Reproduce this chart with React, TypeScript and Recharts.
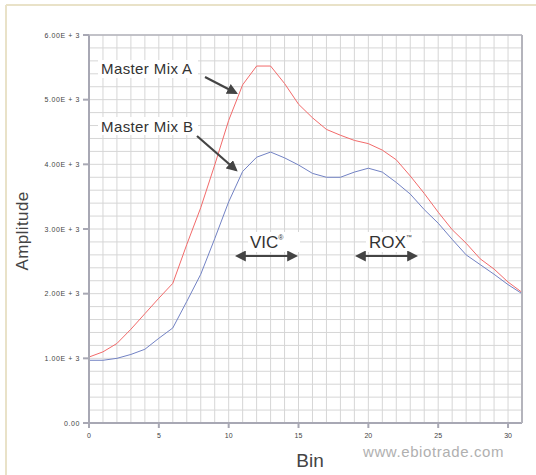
import { CartesianGrid, Line, LineChart, XAxis, YAxis } from "recharts";

const bins = Array.from({ length: 32 }, (_, i) => i);

const mixA = [
  1020, 1100, 1230, 1450, 1690, 1930, 2160, 2760, 3330, 3990, 4680, 5230, 5520,
  5520, 5250, 4930, 4720, 4540, 4450, 4370, 4320, 4220, 4070, 3820, 3550, 3260,
  2990, 2780, 2540, 2380, 2180, 2020,
];

const mixB = [
  970, 970, 1000, 1060, 1140, 1310, 1470, 1880, 2300, 2850, 3420, 3890, 4110,
  4190, 4100, 3990, 3860, 3800, 3800, 3880, 3940, 3880, 3720, 3540, 3300, 3090,
  2840, 2600, 2450, 2300, 2140, 2000,
];

const xTicks = [0, 5, 10, 15, 20, 25, 30];
const yTicks = [0, 1000, 2000, 3000, 4000, 5000, 6000];
const xGrid = Array.from({ length: 32 }, (_, i) => i);
const yGrid = Array.from({ length: 31 }, (_, i) => i * 200);

const data = bins.map((bin, i) => ({ bin, a: mixA[i], b: mixB[i] }));

const font = "'Liberation Sans', Arial, sans-serif";

const fmtY = (v: number) => (v === 0 ? "0.00" : `${(v / 1000).toFixed(2)}E + 3`);

const YTick = ({ x, y, payload }: any) => (
  <text
    x={x - 1}
    y={y}
    textAnchor="end"
    dominantBaseline="central"
    fontSize={7}
    fontFamily={font}
    fill="#444"
    letterSpacing={0.6}
  >
    {fmtY(payload.value)}
  </text>
);

const XTick = ({ x, y, payload }: any) => (
  <text x={x} y={y + 8} textAnchor="middle" fontSize={7} fontFamily={font} fill="#444">
    {payload.value}
  </text>
);

export default function App() {
  return (
    <div
      style={{
        position: "fixed",
        left: 0,
        top: 0,
        width: 536,
        height: 475,
        background: "#fff",
        fontFamily: font,
      }}
    >
      <LineChart
        width={536}
        height={475}
        data={data}
        margin={{ top: 35, right: 14, bottom: 22, left: 29 }}
      >
        <CartesianGrid xAxisId="grid" yAxisId="grid" stroke="#d6d6d6" strokeWidth={1} />
        <XAxis xAxisId="grid" dataKey="bin" type="number" domain={[0, 31]} ticks={xGrid} interval={0} hide />
        <YAxis
          yAxisId="grid"
          dataKey="a"
          type="number"
          domain={[0, 6000]}
          allowDataOverflow
          ticks={yGrid}
          interval={0}
          hide
        />
        <XAxis
          dataKey="bin"
          type="number"
          domain={[0, 31]}
          ticks={xTicks}
          height={30}
          stroke="#a8a8b4"
          strokeWidth={2}
          tickSize={5}
          tick={<XTick />}
        />
        <YAxis
          type="number"
          domain={[0, 6000]}
          ticks={yTicks}
          width={60}
          stroke="#a8a8b4"
          strokeWidth={2}
          tickSize={6}
          tick={<YTick />}
        />
        <Line
          dataKey="a"
          type="linear"
          stroke="#f26a6a"
          strokeWidth={1}
          dot={false}
          isAnimationActive={false}
        />
        <Line
          dataKey="b"
          type="linear"
          stroke="#7282c4"
          strokeWidth={1}
          dot={false}
          isAnimationActive={false}
        />
      </LineChart>
      <svg
        width={536}
        height={475}
        style={{ position: "absolute", left: 0, top: 0, pointerEvents: "none" }}
      >
        <defs>
          <marker id="head" viewBox="0 0 10 10" refX="8" refY="5" markerWidth="5" markerHeight="5" orient="auto-start-reverse">
            <path d="M0,0 L10,5 L0,10 z" fill="#444" />
          </marker>
        </defs>
        {/* photo frame */}
        <line x1={6} y1={5} x2={536} y2={5} stroke="#e9e2c8" strokeWidth={2} />
        <line x1={6} y1={5} x2={6} y2={475} stroke="#e9e2c8" strokeWidth={2} />
        {/* plot border right/top */}
        <line x1={522} y1={35} x2={522} y2={423} stroke="#b4b4bc" strokeWidth={2} />
        <line x1={89} y1={35} x2={522} y2={35} stroke="#b4b4bc" strokeWidth={1.5} />

        <g fontFamily={font} fill="#333">
          <rect x={98} y={60} width={100} height={18} fill="#fff" />
          <text x={101} y={74} fontSize={15} letterSpacing={0.4}>Master Mix A</text>
          <rect x={98} y={117} width={100} height={18} fill="#fff" />
          <text x={101} y={132} fontSize={15} letterSpacing={0.4}>Master Mix B</text>
          <rect x={248} y={232} width={52} height={20} fill="#fff" />
          <text x={250} y={248} fontSize={17}>VIC<tspan fontSize={7} dy={-8}>®</tspan></text>
          <rect x={366} y={232} width={56} height={20} fill="#fff" />
          <text x={369} y={248} fontSize={17}>ROX<tspan fontSize={6} dy={-9}>™</tspan></text>
        </g>
        <g stroke="#444" strokeWidth={2.2}>
          <line x1={205} y1={77} x2={236} y2={93} markerEnd="url(#head)" />
          <line x1={197} y1={136} x2={236} y2={170} markerEnd="url(#head)" />
          <line x1={237} y1={256} x2={296} y2={256} markerStart="url(#head)" markerEnd="url(#head)" />
          <line x1={357} y1={256} x2={416} y2={256} markerStart="url(#head)" markerEnd="url(#head)" />
        </g>
        <text
          x={22}
          y={231}
          transform="rotate(-90 22 231)"
          textAnchor="middle"
          dominantBaseline="central"
          fontFamily={font}
          fontSize={17}
          letterSpacing={0.4}
          fill="#444"
        >
          Amplitude
        </text>
        <text x={310} y={467} textAnchor="middle" fontFamily={font} fontSize={19} fill="#444">
          Bin
        </text>
        <text x={363} y={457} fontFamily={font} fontSize={15} fill="#b0b0b0" letterSpacing={0.6}>
          www.ebiotrade.com
        </text>
      </svg>
    </div>
  );
}
